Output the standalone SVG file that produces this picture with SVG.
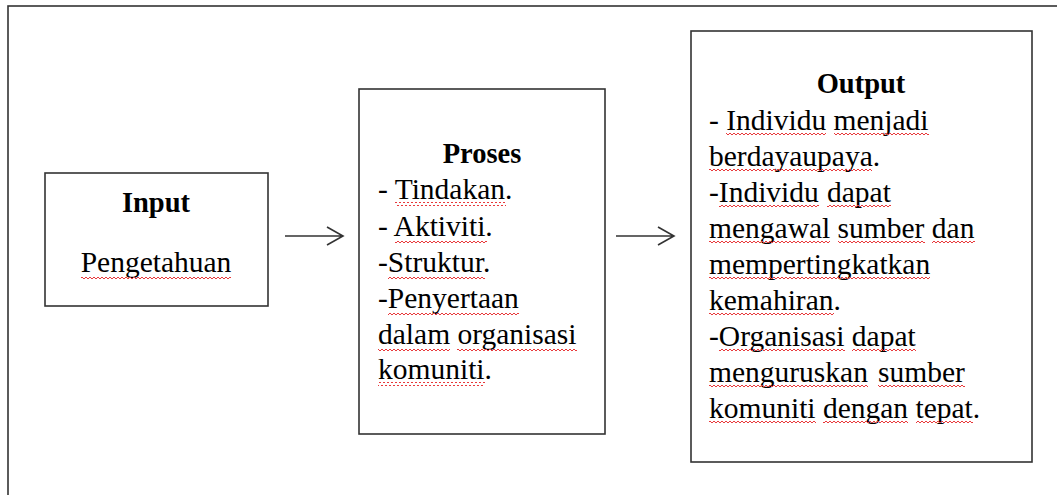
<svg xmlns="http://www.w3.org/2000/svg" width="1057" height="495" viewBox="0 0 1057 495">
<style>
.box{fill:#fff;stroke:#333;stroke-width:1.6}
.t{font-family:"Liberation Serif","Times New Roman",serif;font-size:29.5px;fill:#000}
.b{font-weight:bold;font-size:28.5px}
.w{fill:url(#wave)}
.con{fill:none;stroke:#333;stroke-width:1.6}
</style>
<defs>
<pattern id="wave" patternUnits="userSpaceOnUse" x="0" y="0" width="4" height="4">
<path d="M0 3L2 1L4 3" fill="none" stroke="#e8393b" stroke-width="1"/>
</pattern>
</defs>
<rect width="1057" height="495" fill="#fff"/>
<rect id="frame" x="8" y="6" width="1060" height="500" fill="none" stroke="#333" stroke-width="1.6"/>
<g id="input">
<rect class="box" x="45" y="173" width="223" height="133"/>
<text class="t b" x="156" y="212" text-anchor="middle">Input</text>
<text class="t" x="156" y="272" text-anchor="middle">Pengetahuan</text>
<rect class="w" x="81" y="275" width="150" height="4"/>
</g>
<g id="proses">
<rect class="box" x="359" y="89" width="246" height="345"/>
<text class="t b" x="482" y="163" text-anchor="middle">Proses</text>
<text class="t" x="378" y="199">- Tindakan.</text>
<text class="t" x="378" y="236">- Aktiviti.</text>
<text class="t" x="378" y="272">-Struktur.</text>
<text class="t" x="378" y="308">-Penyertaan</text>
<text class="t" x="378" y="344">dalam organisasi</text>
<text class="t" x="378" y="379">komuniti.</text>
<rect class="w" x="395" y="202" width="111" height="4"/>
<rect class="w" x="395" y="239" width="92" height="4"/>
<rect class="w" x="388" y="275" width="97" height="4"/>
<rect class="w" x="388" y="311" width="131" height="4"/>
<rect class="w" x="378" y="347" width="72" height="4"/>
<rect class="w" x="457" y="347" width="120" height="4"/>
<rect class="w" x="378" y="382" width="107" height="4"/>
</g>
<g id="output">
<rect class="box" x="691" y="31" width="341" height="431"/>
<text class="t b" x="861" y="93" text-anchor="middle">Output</text>
<text class="t" x="709" y="130">- Individu menjadi</text>
<text class="t" x="709" y="166">berdayaupaya.</text>
<text class="t" x="709" y="202">-Individu<tspan x="827">dapat</tspan></text>
<text class="t" x="709" y="238">mengawal sumber dan</text>
<text class="t" x="709" y="274">mempertingkatkan</text>
<text class="t" x="709" y="310">kemahiran.</text>
<text class="t" x="709" y="346">-Organisasi dapat</text>
<text class="t" x="709" y="382">menguruskan<tspan x="878">sumber</tspan></text>
<text class="t" x="709" y="418">komuniti dengan tepat.</text>
<rect class="w" x="726" y="133" width="100" height="4"/>
<rect class="w" x="834" y="133" width="95" height="4"/>
<rect class="w" x="709" y="169" width="163" height="4"/>
<rect class="w" x="719" y="205" width="100" height="4"/>
<rect class="w" x="827" y="205" width="64" height="4"/>
<rect class="w" x="709" y="241" width="121" height="4"/>
<rect class="w" x="838" y="241" width="87" height="4"/>
<rect class="w" x="932" y="241" width="43" height="4"/>
<rect class="w" x="709" y="277" width="221" height="4"/>
<rect class="w" x="709" y="313" width="125" height="4"/>
<rect class="w" x="719" y="349" width="126" height="4"/>
<rect class="w" x="852" y="349" width="64" height="4"/>
<rect class="w" x="709" y="385" width="159" height="4"/>
<rect class="w" x="878" y="385" width="87" height="4"/>
<rect class="w" x="709" y="421" width="107" height="4"/>
<rect class="w" x="823" y="421" width="85" height="4"/>
<rect class="w" x="916" y="421" width="57" height="4"/>
</g>
<g id="connectors">
<path class="con" d="M285 236H343M327 227L343 236L327 245"/>
<path class="con" d="M616 236H674M658 227L674 236L658 245"/>
</g>
</svg>
